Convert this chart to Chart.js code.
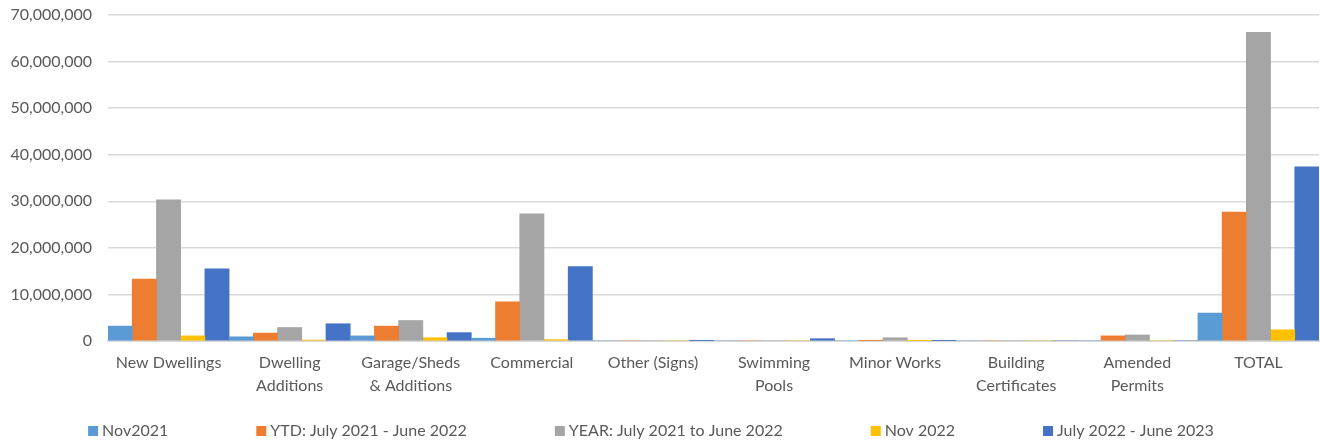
<!DOCTYPE html>
<html>
<head>
<meta charset="utf-8">
<script src="https://cdn.jsdelivr.net/npm/chart.js@4.4.1/dist/chart.umd.min.js"></script>
<style>
  html, body { margin: 0; padding: 0; background: #fff; }
  #wrap { width: 1320px; height: 440px; }
</style>
</head>
<body>
<div id="wrap"><canvas id="permitsChart" width="1320" height="440"></canvas></div>
<script>
const categories = [
  'New Dwellings',
  ['Dwelling', 'Additions'],
  ['Garage/Sheds', '& Additions'],
  'Commercial',
  'Other (Signs)',
  ['Swimming', 'Pools'],
  'Minor Works',
  ['Building', 'Certificates'],
  ['Amended', 'Permits'],
  'TOTAL',
];

const seriesNames = [
  'Nov2021',
  'YTD: July 2021 - June 2022',
  'YEAR: July 2021 to June 2022',
  'Nov 2022',
  'July 2022 - June 2023',
];

const nov2021 = [3200000, 900000, 1100000, 600000, 0, 0, 0, 0, 0, 6000000];
const ytd2122 = [13300000, 1700000, 3200000, 8400000, 0, 0, 100000, 0, 1100000, 27700000];
const year2122 = [30300000, 2900000, 4400000, 27300000, 0, 0, 700000, 0, 1300000, 66300000];
const nov2022 = [1100000, 200000, 700000, 300000, 0, 0, 100000, 0, 0, 2400000];
const fy2223 = [15500000, 3700000, 1800000, 16000000, 100000, 500000, 100000, 0, 0, 37400000];

const seriesColors = ['#5B9BD5', '#ED7D31', '#A5A5A5', '#FFC000', '#4472C4'];

const yTicks = [0, 10000000, 20000000, 30000000, 40000000, 50000000, 60000000, 70000000];

const FONT = 'Lato, "Liberation Sans", sans-serif';
const TEXT_COLOR = '#595959';

const allSeries = [nov2021, ytd2122, year2122, nov2022, fy2223];

const datasets = allSeries.map((values, i) => ({
  label: seriesNames[i],
  data: values,
  backgroundColor: seriesColors[i],
  borderWidth: 0,
  categoryPercentage: 1.0,
  barPercentage: 1.0,
}));

/**
 * Legend row along the bottom, items spaced with an even gap like the original
 */
const bottomLegend = {
  id: 'bottomLegend',
  afterDraw(chart) {
    const { ctx } = chart;
    const gap = 88;
    const box = 10;
    const textOffset = 4;
    const centerX = 651;
    const y = 431;

    ctx.save();
    ctx.font = `16px ${FONT}`;
    ctx.textBaseline = 'middle';
    ctx.textAlign = 'left';

    const items = chart.data.datasets.map(ds => ({
      label: ds.label,
      color: ds.backgroundColor,
      width: box + textOffset + ctx.measureText(ds.label).width,
    }));
    const total =
      items.reduce((sum, it) => sum + it.width, 0) + gap * (items.length - 1);

    let x = centerX - total / 2;
    items.forEach(it => {
      ctx.fillStyle = it.color;
      ctx.fillRect(x, y - box / 2, box, box);
      ctx.fillStyle = TEXT_COLOR;
      ctx.fillText(it.label, x + box + textOffset, y);
      x += it.width + gap;
    });
    ctx.restore();
  },
};

const ctx = document.getElementById('permitsChart').getContext('2d');

new Chart(ctx, {
  type: 'bar',
  data: {
    labels: categories,
    datasets,
  },
  plugins: [bottomLegend],
  options: {
    responsive: false,
    animation: false,
    layout: {
      padding: { top: 0, right: 1, left: 0, bottom: 43 },
    },
    plugins: {
      tooltip: { enabled: false },
      legend: { display: false },
    },
    scales: {
      x: {
        afterFit(scale) {
          scale.height = 56;
        },
        grid: { display: false, drawTicks: false },
        border: { display: true, color: '#D9D9D9', width: 2 },
        ticks: {
          color: TEXT_COLOR,
          font: { family: FONT, size: 16, lineHeight: 1.45 },
          maxRotation: 0,
          autoSkip: false,
          padding: 10,
        },
      },
      y: {
        min: 0,
        max: 70000000,
        afterBuildTicks(scale) {
          scale.ticks = yTicks.map(v => ({ value: v }));
        },
        afterFit(scale) {
          scale.width = 108;
          scale.paddingTop = 15;
        },
        grid: { color: '#D9D9D9', lineWidth: 1.5, drawTicks: false },
        border: { display: false },
        ticks: {
          color: TEXT_COLOR,
          font: { family: FONT, size: 16 },
          padding: 16,
          callback: v => v.toLocaleString('en-US'),
        },
      },
    },
  },
});
</script>
</body>
</html>
